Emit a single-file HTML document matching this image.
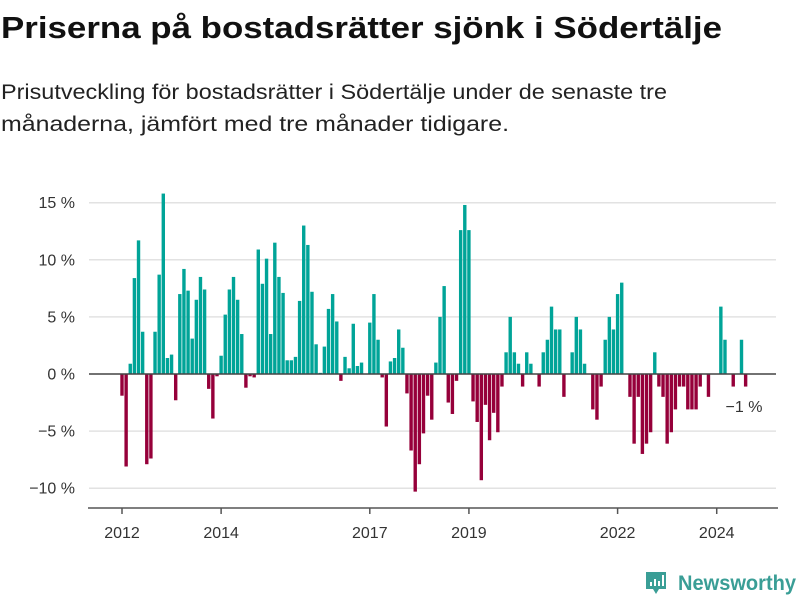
<!DOCTYPE html>
<html><head><meta charset="utf-8"><style>
html,body{margin:0;padding:0;background:#fff;width:800px;height:600px;overflow:hidden}
svg{display:block;font-family:"Liberation Sans","DejaVu Sans",sans-serif}
</style></head><body>
<svg id="chart" width="800" height="600" viewBox="0 0 800 600">
<text x="1" y="38" font-size="31" font-weight="bold" fill="#111" textLength="721" lengthAdjust="spacingAndGlyphs">Priserna på bostadsrätter sjönk i Södertälje</text>
<text x="1" y="99" font-size="21" fill="#222" textLength="666" lengthAdjust="spacingAndGlyphs">Prisutveckling för bostadsrätter i Södertälje under de senaste tre</text>
<text x="1" y="131" font-size="21" fill="#222" textLength="508" lengthAdjust="spacingAndGlyphs">månaderna, jämfört med tre månader tidigare.</text>
<g id="grid"></g>
<g id="bars"></g>
<g id="axis"></g>
<text x="744" y="412" font-size="16" fill="#333" text-anchor="middle">−1 %</text>
<g>
<path d="M646 572 h20 v17 h-7 l-3 5 l-3 -5 h-7 z" fill="#3a9e96"/>
<rect x="650" y="582" width="2" height="4" fill="#fff"/><rect x="654" y="579" width="2" height="7" fill="#fff"/><rect x="658" y="581" width="2" height="5" fill="#fff"/><rect x="662" y="575" width="2" height="11" fill="#fff"/>
<text x="678" y="590" font-size="21" font-weight="bold" fill="#3a9e96" textLength="118" lengthAdjust="spacingAndGlyphs">Newsworthy</text>
</g>
</svg>
<script>
const values = [-1.9,-8.1,0.9,8.4,11.7,3.7,-7.9,-7.4,3.7,8.7,15.8,1.4,1.7,-2.3,7.0,9.2,7.3,3.1,6.5,8.5,7.4,-1.3,-3.9,-0.2,1.6,5.2,7.4,8.5,6.5,3.5,-1.2,-0.2,-0.3,10.9,7.9,10.1,3.5,11.5,8.5,7.1,1.2,
1.2,1.5,6.4,13.0,11.3,7.2,2.6,0.1,2.4,5.7,7.0,4.6,-0.6,1.5,0.5,4.4,0.7,1.0,0,4.5,7.0,3.0,-0.3,-4.6,1.1,1.4,3.9,2.3,-1.7,-6.7,-10.3,-7.9,-5.2,-1.9,-4.0,1.0,5.0,7.7,-2.5,-3.5,-0.6,12.6,
14.8,12.6,-2.4,-4.2,-9.3,-2.7,-5.8,-3.4,-5.1,-1.1,1.9,5.0,1.9,0.9,-1.1,1.9,0.9,0,-1.1,1.9,3.0,5.9,3.9,3.9,-2.0,0,1.9,5.0,3.9,0.9,0,-3.1,-4.0,-1.1,3.0,5.0,3.9,7.0,8.0,0,
-2.0,-6.1,-2.0,-7.0,-6.1,-5.1,1.9,-1.1,-2.0,-6.1,-5.1,-3.1,-1.1,-1.1,-3.1,-3.1,-3.1,-1.1,0,-2.0,0,0,5.9,3.0,0,-1.1,0,3.0,-1.1];
const startYear = 2012;
const yTicks = [-10,-5,0,5,10,15];
const xTickYears = [2012,2014,2017,2019,2022,2024];
const NS="http://www.w3.org/2000/svg";
const x = i => 122 + i*4.13;
const y = v => 374 - v*11.42;
function mk(tag,attrs,parent){const e=document.createElementNS(NS,tag);for(const k in attrs)e.setAttribute(k,attrs[k]);parent.appendChild(e);return e;}
const grid=document.getElementById('grid'),bars=document.getElementById('bars'),axis=document.getElementById('axis');
yTicks.forEach(t=>{
  if(t!==0){const l=mk('line',{x1:89,x2:776,y1:y(t),y2:y(t),stroke:'#e2e2e2','stroke-width':1.5},grid);
  
  }
  const tx=mk('text',{x:75,y:y(t)+5.5,'font-size':16,fill:'#333','text-anchor':'end'},grid);
  tx.textContent=(t<0?'−'+Math.abs(t):t)+' %';
  
  
});
values.forEach((v,i)=>{
  if(v===0)return;
  const r=mk('rect',{x:x(i)-1.7,width:3.4,y:Math.min(y(v),y(0)),height:Math.abs(y(v)-y(0)),fill:v>0?'#00a498':'#96003a'},bars);
  
  
});
const z=mk('line',{x1:89,x2:776,y1:y(0),y2:y(0),stroke:'#444','stroke-width':1.5},bars);


const base=mk('line',{x1:88,x2:778,y1:508,y2:508,stroke:'#555','stroke-width':1.5},axis);


xTickYears.forEach(yr=>{
  const px=x((yr-startYear)*12);
  const tk=mk('line',{x1:px,x2:px,y1:508,y2:514,stroke:'#555','stroke-width':1.5},axis);
  
  
  const t=mk('text',{x:px,y:538,'font-size':16,fill:'#333','text-anchor':'middle'},axis);
  t.textContent=yr;
  
  
});
</script>
</body></html>
